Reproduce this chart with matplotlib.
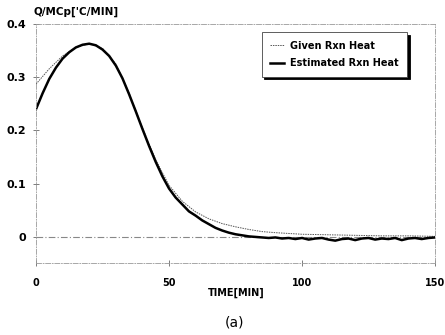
import numpy as np
import matplotlib
matplotlib.use("Agg")
import matplotlib.pyplot as plt

plt.rcParams['font.family'] = ['DejaVu Sans']

# given reaction heat (smooth)
t_given = [0, 5, 10, 15, 20, 25, 30, 35, 40, 45, 50, 55, 60, 65, 70, 75, 80,
           85, 90, 100, 110, 120, 130, 140, 150]
q_given = [0.287, 0.316, 0.340, 0.356, 0.363, 0.354, 0.325, 0.270, 0.205,
           0.145, 0.097, 0.067, 0.047, 0.034, 0.025, 0.019, 0.014, 0.010,
           0.008, 0.005, 0.004, 0.003, 0.002, 0.002, 0.001]

# estimated reaction heat (noisy tail)
t_est = [0, 2.5, 5, 7.5, 10, 12.5, 15, 17.5, 20, 22.5, 25, 27.5, 30, 32.5,
         35, 37.5, 40, 42.5, 45, 47.5, 50, 52.5, 55, 57.5, 60, 62.5, 65,
         67.5, 70, 72.5, 75, 77.5, 80, 82.5, 85, 87.5, 90, 92.5, 95, 97.5,
         100, 102.5, 105, 107.5, 110, 112.5, 115, 117.5, 120, 122.5, 125,
         127.5, 130, 132.5, 135, 137.5, 140, 142.5, 145, 147.5, 150]
q_est = [0.240, 0.270, 0.297, 0.318, 0.335, 0.347, 0.356, 0.361, 0.363,
         0.360, 0.352, 0.340, 0.322, 0.298, 0.268, 0.236, 0.203, 0.171,
         0.141, 0.114, 0.091, 0.074, 0.061, 0.048, 0.040, 0.031, 0.024,
         0.017, 0.012, 0.008, 0.005, 0.003, 0.001, 0.000, -0.001, -0.002,
         -0.001, -0.003, -0.002, -0.004, -0.002, -0.005, -0.003, -0.002,
         -0.005, -0.007, -0.004, -0.003, -0.006, -0.003, -0.002, -0.005,
         -0.003, -0.004, -0.002, -0.006, -0.003, -0.002, -0.004, -0.002,
         -0.001]

x_ticks = [0, 50, 100, 150]
y_ticks = [0, 0.1, 0.2, 0.3, 0.4]
y_labels = ['0', '0.1', '0.2', '0.3', '0.4']

fig = plt.figure(figsize=(4.45, 3.35), dpi=100)
ax = fig.add_axes([36 / 445, 1 - 263 / 335, 399 / 445, 239 / 335])

dashdot = (0, (6, 2, 1, 2))
ax.axhline(0, color='#888888', lw=0.8, ls=dashdot)
ax.plot(t_given, q_given, color='#555555', lw=0.7, ls=(0, (1.5, 1)),
        label='Given Rxn Heat')
ax.plot(t_est, q_est, color='black', lw=1.8, label='Estimated Rxn Heat')

ax.set_xlim(0, 150)
ax.set_ylim(-0.049, 0.4)
ax.set_xticks(x_ticks)
ax.set_xticklabels([str(v) for v in x_ticks], fontsize=7, fontweight='bold')
ax.set_yticks(y_ticks)
ax.set_yticklabels(y_labels, fontsize=8, fontweight='bold')
ax.tick_params(direction='inout', length=4, width=0.6, color='#666666')
ax.tick_params(axis='y', pad=5)
ax.tick_params(axis='x', pad=9)
for s in ax.spines.values():
    s.set_linestyle(dashdot)
    s.set_linewidth(0.6)
    s.set_color('#999999')

leg = ax.legend(loc='upper right', bbox_to_anchor=(0.93, 0.967),
                borderaxespad=0, fancybox=False,
                shadow={'facecolor': 'black', 'edgecolor': 'black', 'alpha': 1},
                frameon=True, prop={'size': 7, 'weight': 'bold'},
                handlelength=1.4, handletextpad=0.6, borderpad=0.9,
                labelspacing=0.75)
leg.get_frame().set_edgecolor('#444444')
leg.get_frame().set_linewidth(0.6)
leg.get_frame().set_alpha(1)

fig.text(33 / 445, 1 - 12 / 335, "Q/MCp['C/MIN]", fontsize=7.5,
         fontweight='bold', va='center', ha='left')
fig.text(236 / 445, 1 - 293 / 335, 'TIME[MIN]', fontsize=7,
         fontweight='bold', va='center', ha='center')
fig.text(235 / 445, 1 - 322 / 335, '(a)', fontsize=10,
         va='center', ha='center')

fig.savefig('out.png', dpi=100)
